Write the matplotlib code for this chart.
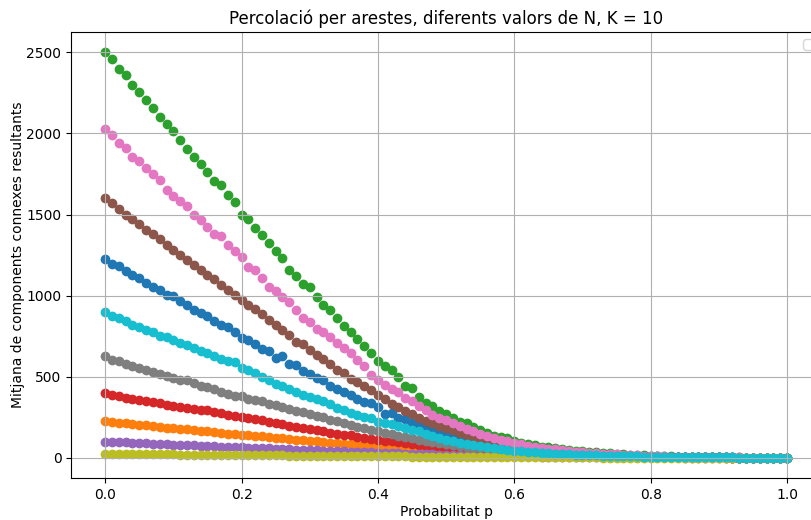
"""Edge percolation on N x N grids: mean number of connected components vs p."""

import numpy as np
import matplotlib

matplotlib.use("Agg")
import matplotlib.pyplot as plt

# probabilities 0.00, 0.01, ..., 1.00
p_values = np.linspace(0.0, 1.0, 101)

comps_n50 = [
    2500, 2457, 2399, 2358, 2300, 2257, 2204, 2154, 2101, 2060,
    2012, 1961, 1905, 1856, 1809, 1761, 1706, 1679, 1621, 1576,
    1494, 1473, 1415, 1372, 1327, 1278, 1230, 1160, 1123, 1072,
    1051, 990, 944, 909, 860, 810, 773, 735, 691, 648,
    599, 568, 543, 498, 440, 432, 375, 341, 320, 290,
    272, 245, 224, 214, 189, 173, 152, 136, 128, 121,
    107, 94, 86, 78, 70, 66, 60, 54, 49, 45,
    41, 38, 35, 32, 29, 26, 23, 20, 17, 15,
    13, 11.5, 10, 9, 8, 7, 6.3, 5.6, 5, 4.4,
    3.9, 3.4, 3, 2.6, 2.3, 2, 1.7, 1.5, 1.3, 1.1, 1,
]
comps_n45 = [
    2025, 1988, 1939, 1912, 1856, 1829, 1788, 1747, 1712, 1654,
    1613, 1582, 1551, 1500, 1469, 1424, 1381, 1366, 1309, 1273,
    1239, 1177, 1156, 1106, 1054, 1027, 992, 959, 911, 862,
    837, 794, 775, 743, 708, 677, 646, 601, 564, 510,
    478, 451, 425, 405, 370, 348, 320, 292, 265, 248,
    232, 212, 195, 180, 163, 150, 134, 121, 110, 102,
    93, 84, 76, 69, 62, 57, 52, 47, 43, 39,
    35, 32, 29, 26, 23, 21, 19, 17, 15, 13,
    11.5, 10, 9, 8, 7, 6.3, 5.6, 5, 4.4, 3.9,
    3.5, 3.1, 2.8, 2.5, 2.2, 1.9, 1.7, 1.5, 1.3, 1.1, 1,
]
comps_n40 = [
    1600, 1572, 1535, 1500, 1473, 1442, 1407, 1377, 1346, 1309,
    1284, 1253, 1222, 1191, 1160, 1130, 1103, 1068, 1037, 1006,
    975, 944, 918, 888, 852, 821, 790, 755, 712, 704,
    667, 636, 609, 580, 543, 523, 485, 470, 444, 420,
    390, 362, 335, 312, 290, 268, 248, 230, 212, 198,
    186, 170, 156, 143, 130, 118, 107, 98, 89, 82,
    75, 68, 62, 56, 51, 46, 42, 38, 35, 32,
    29, 26, 23, 21, 19, 17, 15, 13.5, 12, 11,
    10, 9, 8, 7.2, 6.5, 5.8, 5.2, 4.6, 4.1, 3.7,
    3.3, 2.9, 2.6, 2.3, 2.1, 1.9, 1.7, 1.5, 1.3, 1.1, 1,
]
comps_n35 = [
    1225, 1198, 1181, 1150, 1130, 1109, 1078, 1053, 1033, 1006,
    996, 965, 944, 914, 893, 872, 841, 821, 807, 774,
    739, 728, 704, 672, 656, 615, 626, 580, 574, 533,
    519, 492, 477, 440, 424, 409, 389, 362, 347, 341,
    313, 272, 276, 248, 240, 214, 197, 180, 166, 155,
    142, 128, 116, 105, 96, 87, 79, 72, 66, 60,
    55, 50, 46, 42, 38, 35, 32, 29, 27, 24,
    22, 20, 18, 16, 15, 13.5, 12, 11, 10, 9,
    8.2, 7.5, 6.8, 6.2, 5.6, 5.1, 4.6, 4.2, 3.8, 3.4,
    3.1, 2.8, 2.5, 2.2, 2, 1.8, 1.6, 1.4, 1.3, 1.1, 1,
]
comps_n30 = [
    900, 877, 862, 841, 821, 807, 790, 774, 753, 743,
    724, 708, 698, 677, 656, 646, 626, 609, 595, 589,
    554, 543, 523, 497, 478, 457, 440, 424, 409, 389,
    374, 362, 348, 335, 307, 296, 276, 266, 255, 245,
    224, 214, 206, 194, 183, 173, 163, 148, 136, 122,
    112, 102, 93, 85, 78, 71, 65, 59, 54, 49,
    45, 41, 37, 34, 31, 28, 26, 24, 22, 20,
    18, 16.5, 15, 13.5, 12.3, 11.2, 10.2, 9.3, 8.5, 7.8,
    7.1, 6.5, 6, 5.5, 5, 4.6, 4.2, 3.8, 3.5, 3.2,
    2.9, 2.6, 2.4, 2.2, 2, 1.8, 1.6, 1.4, 1.3, 1.1, 1,
]
comps_n25 = [
    625, 605, 595, 580, 568, 554, 543, 527, 516, 502,
    492, 481, 477, 461, 444, 436, 424, 409, 395, 383,
    379, 362, 358, 348, 333, 326, 312, 304, 290, 281,
    270, 257, 249, 236, 227, 213, 205, 192, 184, 172,
    165, 155, 147, 136, 130, 120, 113, 105, 99, 91,
    85, 79, 73, 68, 63, 58, 53, 49, 45, 42,
    38, 35, 32, 30, 27, 25, 23, 21, 19, 17.5,
    16, 14.7, 13.5, 12.4, 11.3, 10.4, 9.5, 8.7, 8, 7.3,
    6.7, 6.1, 5.6, 5.1, 4.7, 4.3, 3.9, 3.6, 3.3, 3,
    2.7, 2.5, 2.3, 2.1, 1.9, 1.7, 1.5, 1.4, 1.2, 1.1, 1,
]
comps_n20 = [
    400, 389, 383, 368, 362, 354, 348, 342, 337, 327,
    321, 313, 307, 300, 296, 292, 280, 276, 265, 259,
    251, 245, 239, 235, 224, 212, 206, 197, 191, 183,
    177, 169, 164, 156, 150, 142, 138, 130, 124, 119,
    112, 107, 101, 96, 90, 86, 80, 75, 71, 66,
    62, 58, 54, 50, 47, 44, 41, 38, 35, 32,
    30, 28, 26, 24, 22, 20, 19, 17, 16, 15,
    14, 13, 12, 11, 10, 9.5, 9, 8, 7.5, 7,
    6.5, 6, 5.5, 5, 4.6, 4.2, 3.9, 3.5, 3.2, 3,
    2.7, 2.5, 2.3, 2.1, 1.9, 1.7, 1.5, 1.4, 1.2, 1.1, 1,
]
comps_n15 = [
    225, 221, 217, 212, 208, 204, 200, 196, 192, 187,
    184, 179, 175, 171, 168, 163, 159, 155, 150, 147,
    144, 139, 135, 132, 127, 123, 120, 116, 112, 108,
    105, 101, 97, 94, 90, 87, 84, 80, 77, 74,
    71, 68, 65, 62, 59, 56, 54, 51, 49, 46,
    44, 42, 39, 37, 35, 33, 31, 29, 27, 26,
    24, 23, 21, 20, 18, 17, 16, 15, 14, 13,
    12, 11, 10, 9.5, 9, 8.3, 7.6, 7, 6.5, 6,
    5.5, 5, 4.6, 4.3, 4, 3.7, 3.4, 3.1, 2.9, 2.7,
    2.5, 2.3, 2.1, 1.9, 1.8, 1.6, 1.5, 1.3, 1.2, 1.1, 1,
]
comps_n10 = [
    100, 98, 96, 95, 93, 91, 89, 87, 86, 84,
    82, 80, 79, 77, 75, 73, 71, 70, 68, 66,
    64.5, 63, 61, 59, 58, 56, 54, 52.5, 51, 49,
    47.5, 46, 44, 43, 41, 39.5, 38, 36.5, 35, 33.5,
    32, 30.5, 29, 27.5, 26, 25, 23.5, 22.5, 21.5, 20.5,
    19.5, 18.5, 17.5, 16.5, 15.5, 14.5, 13.7, 12.9, 12, 11.3,
    10.5, 9.9, 9.3, 8.7, 8.1, 7.5, 7.1, 6.7, 6.3, 5.9,
    5.5, 5.2, 4.9, 4.6, 4.3, 4, 3.8, 3.6, 3.4, 3.2,
    3, 2.9, 2.7, 2.6, 2.4, 2.3, 2.2, 2.1, 2, 1.9,
    1.8, 1.7, 1.6, 1.5, 1.4, 1.3, 1.25, 1.2, 1.1, 1.05, 1,
]
comps_n5 = [
    25, 24.6, 24.2, 23.8, 23.4, 23, 22.6, 22.2, 21.8, 21.4,
    21, 20.6, 20.2, 19.8, 19.4, 19, 18.6, 18.2, 17.8, 17.5,
    17.2, 16.8, 16.4, 16, 15.6, 15.2, 14.8, 14.4, 14, 13.7,
    13.3, 13, 12.6, 12.2, 11.9, 11.5, 11.2, 10.8, 10.5, 10.1,
    9.8, 9.5, 9.1, 8.8, 8.5, 8.1, 7.8, 7.5, 7.2, 6.9,
    6.6, 6.3, 6.1, 5.8, 5.5, 5.3, 5.1, 4.8, 4.6, 4.4,
    4.2, 4, 3.8, 3.6, 3.5, 3.3, 3.2, 3, 2.9, 2.7,
    2.6, 2.5, 2.4, 2.3, 2.2, 2.1, 2, 1.9, 1.85, 1.8,
    1.7, 1.65, 1.6, 1.55, 1.5, 1.45, 1.4, 1.35, 1.3, 1.25,
    1.2, 1.18, 1.15, 1.12, 1.1, 1.08, 1.06, 1.04, 1.02, 1.01, 1,
]

# same order the sizes were run in (gives the default colour cycle)
series = [
    comps_n35, comps_n15, comps_n50, comps_n20, comps_n10,
    comps_n40, comps_n45, comps_n25, comps_n5, comps_n30,
]


def main():
    fig = plt.figure(figsize=(8.11, 5.20), dpi=100)
    ax = fig.add_axes([0.0877, 0.0808, 0.9248, 0.8577])
    for values in series:
        ax.scatter(p_values, values)
    ax.set_title("Percolació per arestes, diferents valors de N, K = 10")
    ax.set_xlabel("Probabilitat p", labelpad=2.5)
    ax.set_ylabel("Mitjana de components connexes resultants", labelpad=1)
    ax.grid(True)
    ax.legend(loc="upper right")
    fig.savefig("out.png", dpi=100)
    plt.close(fig)


if __name__ == "__main__":
    main()
